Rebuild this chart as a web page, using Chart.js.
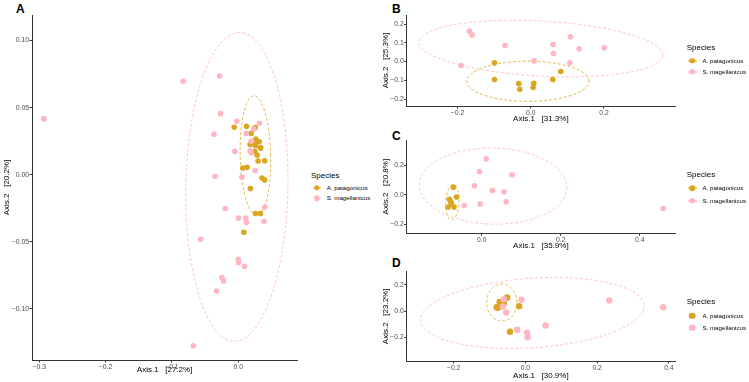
<!DOCTYPE html>
<html><head><meta charset="utf-8">
<script src="https://cdn.jsdelivr.net/npm/chart.js@4.4.0/dist/chart.umd.min.js"></script>
<style>
html,body{margin:0;padding:0;background:#fff;}
body{width:749px;height:382px;position:relative;overflow:hidden;font-family:"Liberation Sans",Arial,Helvetica,sans-serif;}
canvas{position:absolute;}
.plab{position:absolute;font-weight:bold;font-size:12px;line-height:1;color:#000;}
.lt{position:absolute;white-space:nowrap;line-height:1;color:#000;transform:translateY(-50%);}
.mk{position:absolute;border-radius:50%;transform:translate(-50%,-50%);}
.ml{position:absolute;height:1px;transform:translateY(-50%);}
</style>
</head><body>
<div class="plab" style="left:16px;top:2.8px">A</div>
<div class="plab" style="left:392px;top:2.8px">B</div>
<div class="plab" style="left:392px;top:129.8px">C</div>
<div class="plab" style="left:392px;top:256.8px">D</div>
<canvas id="cA" width="300" height="382" style="left:0;top:0"></canvas>
<canvas id="cB" width="369" height="126" style="left:380px;top:0"></canvas>
<canvas id="cC" width="369" height="126" style="left:380px;top:126px"></canvas>
<canvas id="cD" width="369" height="130" style="left:380px;top:252px"></canvas>
<div id="legends"></div>
<script>
// ---------- DATA ----------
const speciesNames = ["A. patagonicus", "S. magellanicus"];
const legendTitle = "Species";

// Panel A
const A_apat_x = [-0.006, 0.0125, 0.0195, 0.0256, 0.0266, 0.0316, 0.018, 0.0261, 0.0336, 0.0251, 0.0286, 0.030, 0.040, 0.007, 0.0135, 0.036, 0.040, 0.0185, 0.026, 0.0336, 0.0085, 0.0256, 0.034];
const A_apat_y = [0.0353, 0.0361, 0.0308, 0.0351, 0.0266, 0.0246, 0.0226, 0.0216, 0.0201, 0.0172, 0.0147, 0.0102, 0.0104, 0.005, 0.0055, -0.0025, -0.004, -0.0102, -0.0289, -0.0289, -0.0428, 0.0229, 0.0199];
const A_smag_x = [-0.2932, -0.0832, -0.0281, -0.0266, -0.002, -0.0366, 0.012, 0.0236, 0.032, 0.0195, 0.018, 0.0195, -0.005, -0.035, 0.0055, 0.0256, -0.0195, 0.040, 0.0005, 0.0115, 0.0125, 0.039, -0.0566, 0.0, 0.0005, 0.0095, -0.0246, -0.0221, -0.0326, -0.0677];
const A_smag_y = [0.0418, 0.0697, 0.0736, 0.0455, 0.0398, 0.0301, 0.0308, 0.0341, 0.0383, 0.0249, 0.0179, 0.0164, 0.0174, -0.0012, -0.0017, 0.0032, -0.0251, -0.0241, -0.0323, -0.0323, -0.0356, -0.0346, -0.048, -0.0629, -0.0654, -0.0682, -0.0766, -0.0791, -0.0866, -0.1274];
// ellipse parameters: [centre x, centre y, radius x, radius y, x-skew, y-skew]
const A_ell_apat = [0.026, 0.0143, 0.023, 0.0445, -0.002, 0];
const A_ell_smag = [-0.002, -0.009, 0.077, 0.115, 0.0037, 0];
const A_xTicks = [-0.3, -0.2, -0.1, 0.0];
const A_xLabels = ["\u22120.3", "\u22120.2", "\u22120.1", "0.0"];
const A_yTicks = [-0.10, -0.05, 0.0, 0.05, 0.10];
const A_yLabels = ["\u22120.10", "\u22120.05", "0.00", "0.05", "0.10"];
const A_xRange = [-0.311, 0.089];
const A_yRange = [-0.138, 0.119];
const A_titles = ["Axis.1   [27.2%]", "Axis.2   [20.2%]"];

// Panel B
const B_apat_x = [-0.0993, -0.0993, -0.0328, -0.0301, 0.0082, 0.0064, 0.0601, 0.082];
const B_apat_y = [-0.0071, -0.096, -0.1174, -0.1477, -0.1157, -0.1388, -0.096, -0.0534];
const B_smag_x = [-0.1677, -0.1604, -0.0702, 0.061, 0.1084, 0.1321, 0.2005, 0.062, 0.0091, 0.1066, -0.1904];
const B_smag_y = [0.162, 0.142, 0.0854, 0.0907, 0.1317, 0.0676, 0.073, 0.0427, 0.0036, -0.0071, -0.0214];
const B_ell_apat = [-0.008, -0.105, 0.167, 0.107, 0, 0];
const B_ell_smag = [0.0275, 0.069, 0.333, 0.147, 0, -0.034];
const B_xTicks = [-0.2, 0.0, 0.2];
const B_xLabels = ["\u22120.2", "0.0", "0.2"];
const B_yTicks = [-0.2, -0.1, 0.0, 0.1, 0.2];
const B_yLabels = ["\u22120.2", "\u22120.1", "0.0", "0.1", "0.2"];
const B_xRange = [-0.339, 0.394];
const B_yRange = [-0.237, 0.248];
const B_titles = ["Axis.1   [31.3%]", "Axis.2   [25.3%]"];

// Panel C
const C_apat_x = [-0.0719, -0.064, -0.082, -0.077, -0.085, -0.070, -0.079];
const C_apat_y = [0.052, -0.015, -0.030, -0.058, -0.083, -0.083, -0.045];
const C_smag_x = [0.011, -0.0059, 0.0768, -0.0186, 0.027, 0.0565, -0.0447, -0.0042, 0.0616, 0.459];
const C_smag_y = [0.244, 0.158, 0.1356, 0.061, 0.0294, 0.0203, -0.0723, -0.0633, -0.0475, -0.0927];
const C_ell_apat = [-0.0745, -0.051, 0.017, 0.119, 0.002, 0];
const C_ell_smag = [0.0285, 0.059, 0.1865, 0.2575, 0.01, -0.022];
const C_xTicks = [0.0, 0.2, 0.4];
const C_xLabels = ["0.0", "0.2", "0.4"];
const C_yTicks = [-0.2, 0.0, 0.2];
const C_yLabels = ["\u22120.2", "0.0", "0.2"];
const C_xRange = [-0.19, 0.489];
const C_yRange = [-0.261, 0.372];
const C_titles = ["Axis.1   [35.9%]", "Axis.2   [20.8%]"];

// Panel D
const D_apat_x = [-0.0507, -0.072, -0.0765, -0.080, -0.060, -0.0175, -0.043];
const D_apat_y = [0.1045, 0.071, 0.0252, 0.030, 0.059, 0.038, -0.158];
const D_smag_x = [-0.060, -0.011, -0.0627, -0.0535, -0.023, 0.0047, 0.006, 0.0564, 0.2337, 0.384];
const D_smag_y = [0.0916, 0.088, 0.035, -0.010, -0.142, -0.165, -0.200, -0.110, 0.0815, 0.0306];
const D_ell_apat = [-0.066, 0.066, 0.042, 0.142, 0, 0];
const D_ell_smag = [0.0195, -0.014, 0.31, 0.27, 0.032, 0.025];
const D_xTicks = [-0.2, 0.0, 0.2, 0.4];
const D_xLabels = ["\u22120.2", "0.0", "0.2", "0.4"];
const D_yTicks = [-0.2, 0.0, 0.2];
const D_yLabels = ["\u22120.2", "0.0", "0.2"];
const D_xRange = [-0.331, 0.417];
const D_yRange = [-0.381, 0.3015];
const D_titles = ["Axis.1   [30.9%]", "Axis.2   [23.2%]"];

// ---------- STYLE ----------
const GOLD = "#DAA520", PINK = "#FFB6C1";
const FAM = "'Liberation Sans', Arial, Helvetica, sans-serif";

function pts(xs, ys) { return xs.map((x, i) => ({ x: x, y: ys[i] })); }
function ellipse(p) {
  const out = [], n = 160;
  for (let i = 0; i <= n; i++) {
    const t = 2 * Math.PI * i / n;
    out.push({ x: p[0] + p[2] * Math.cos(t) + p[4] * Math.sin(t),
               y: p[1] + p[5] * Math.cos(t) + p[3] * Math.sin(t) });
  }
  return out;
}

function makePanel(id, D, G) {
  const ctx = document.getElementById(id);
  const ptStyle = { borderWidth: 0, pointBorderWidth: 0, pointRadius: G.r, pointHoverRadius: G.r, showLine: false };
  const ellStyle = { showLine: true, pointRadius: 0, pointHoverRadius: 0, borderWidth: 0.8, borderDash: [3, 2], fill: false, tension: 0, order: 3 };
  const tickFont = { size: 6.8, family: FAM };
  const titleFont = { size: 8, family: FAM };
  new Chart(ctx, {
    type: 'scatter',
    data: {
      datasets: [
        Object.assign({ label: speciesNames[1], data: pts(D.sx, D.sy), backgroundColor: PINK, order: 1 }, ptStyle),
        Object.assign({ label: speciesNames[0], data: pts(D.ax, D.ay), backgroundColor: GOLD, order: 2 }, ptStyle),
        Object.assign({ label: 'e1', data: ellipse(D.es), borderColor: PINK }, ellStyle),
        Object.assign({ label: 'e2', data: ellipse(D.ea), borderColor: GOLD }, ellStyle)
      ]
    },
    options: {
      responsive: false, animation: false, devicePixelRatio: 1,
      layout: { padding: { top: G.padTop, right: G.padRight, left: 0, bottom: 0 } },
      plugins: { legend: { display: false }, tooltip: { enabled: false } },
      events: [],
      scales: {
        x: {
          type: 'linear', min: D.xr[0], max: D.xr[1],
          afterBuildTicks: s => { s.ticks = D.xt.map(v => ({ value: v })); },
          afterFit: s => { s.height = G.xH; },
          ticks: { callback: (v, i) => D.xl[i], font: tickFont, color: '#4d4d4d', padding: 0.5, maxRotation: 0, autoSkip: false },
          grid: { display: true, drawOnChartArea: false, drawTicks: true, tickLength: 2.5, color: '#333', lineWidth: 1 },
          border: { display: true, color: '#333', width: 1 },
          title: { display: true, text: D.titles[0], font: titleFont, color: '#000', padding: { top: 0, bottom: G.xTP } }
        },
        y: {
          type: 'linear', min: D.yr[0], max: D.yr[1],
          afterBuildTicks: s => { s.ticks = D.yt.map(v => ({ value: v })); },
          afterFit: s => { s.width = G.yW; },
          ticks: { callback: (v, i) => D.yl[i], font: tickFont, color: '#4d4d4d', padding: 0.5, autoSkip: false },
          grid: { display: true, drawOnChartArea: false, drawTicks: true, tickLength: 2.5, color: '#333', lineWidth: 1 },
          border: { display: true, color: '#333', width: 1 },
          title: { display: true, text: D.titles[1], font: titleFont, color: '#000', padding: { top: G.yTP, bottom: 0 } }
        }
      }
    }
  });
}

makePanel('cA', { ax: A_apat_x, ay: A_apat_y, sx: A_smag_x, sy: A_smag_y, ea: A_ell_apat, es: A_ell_smag,
  xt: A_xTicks, xl: A_xLabels, yt: A_yTicks, yl: A_yLabels, xr: A_xRange, yr: A_yRange, titles: A_titles },
  { r: 2.8, padTop: 15, padRight: 2, xH: 22, yW: 32, xTP: 7.9, yTP: 2.4 });
makePanel('cB', { ax: B_apat_x, ay: B_apat_y, sx: B_smag_x, sy: B_smag_y, ea: B_ell_apat, es: B_ell_smag,
  xt: B_xTicks, xl: B_xLabels, yt: B_yTicks, yl: B_yLabels, xr: B_xRange, yr: B_yRange, titles: B_titles },
  { r: 2.8, padTop: 15, padRight: 74, xH: 20, yW: 26.7, xTP: 2.9, yTP: 1.4 });
makePanel('cC', { ax: C_apat_x, ay: C_apat_y, sx: C_smag_x, sy: C_smag_y, ea: C_ell_apat, es: C_ell_smag,
  xt: C_xTicks, xl: C_xLabels, yt: C_yTicks, yl: C_yLabels, xr: C_xRange, yr: C_yRange, titles: C_titles },
  { r: 2.8, padTop: 14, padRight: 74, xH: 18.7, yW: 26.7, xTP: 1.2, yTP: 1.4 });
makePanel('cD', { ax: D_apat_x, ay: D_apat_y, sx: D_smag_x, sy: D_smag_y, ea: D_ell_apat, es: D_ell_smag,
  xt: D_xTicks, xl: D_xLabels, yt: D_yTicks, yl: D_yLabels, xr: D_xRange, yr: D_yRange, titles: D_titles },
  { r: 3.2, padTop: 19.7, padRight: 74, xH: 21, yW: 26.7, xTP: 1.2, yTP: 1.4 });

// ---------- LEGENDS (HTML text) ----------
function legend(left, yTitle, y1, y2, withLine, r) {
  const host = document.getElementById('legends');
  let h = '<div class="lt" style="left:' + left + 'px;top:' + yTitle + 'px;font-size:8px">' + legendTitle + '</div>';
  [[y1, GOLD, speciesNames[0]], [y2, PINK, speciesNames[1]]].forEach(([y, c, name]) => {
    if (withLine) h += '<div class="ml" style="left:' + (left + 1.5) + 'px;top:' + y + 'px;width:8.5px;background:' + c + '"></div>';
    h += '<div class="mk" style="left:' + (left + 5.7) + 'px;top:' + y + 'px;width:' + (2 * r) + 'px;height:' + (2 * r) + 'px;background:' + c + '"></div>';
    h += '<div class="lt" style="left:' + (left + 15.7) + 'px;top:' + y + 'px;font-size:6.2px">' + name + '</div>';
  });
  host.insertAdjacentHTML('beforeend', h);
}
legend(311, 175.7, 187.7, 198.3, true, 2.7);
legend(686.7, 48.3, 60.7, 71.7, true, 2.7);
legend(686.7, 175, 188.3, 200.7, true, 2.7);
legend(686.7, 302.3, 315.7, 327.7, false, 3.3);
</script>
</body></html>
